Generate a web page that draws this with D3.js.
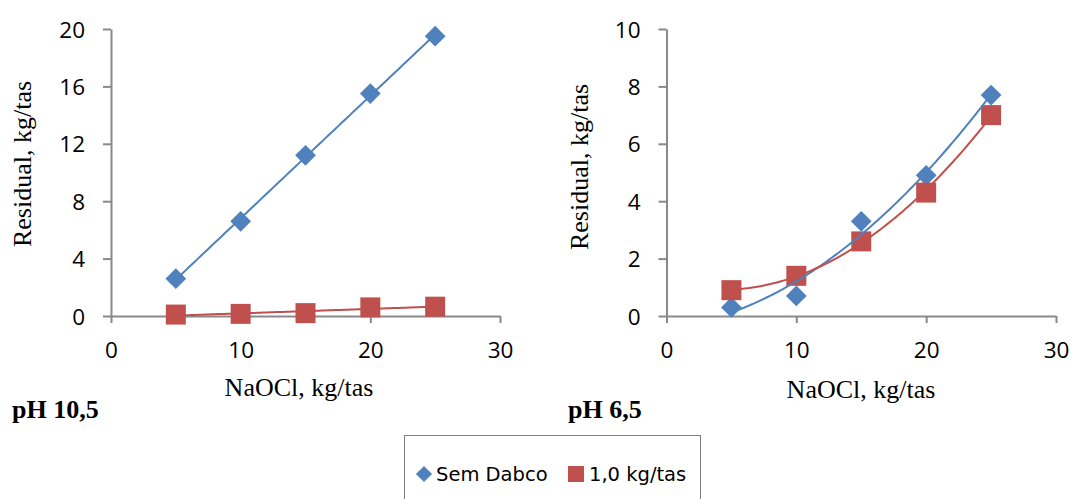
<!DOCTYPE html>
<html>
<head>
<meta charset="utf-8">
<script src="https://cdn.jsdelivr.net/npm/d3@7/dist/d3.min.js"></script>
<style>
  html, body { margin: 0; padding: 0; background: #fff; }
  svg { display: block; }
</style>
</head>
<body>
<svg id="chart" width="1073" height="499"></svg>
<script>
// NaOCl charge (kg/tas)
const naocl = [5, 10, 15, 20, 25];

// pH 10,5 panel
const ph105SemDabco = [2.6, 6.6, 11.2, 15.5, 19.5];
const ph105Dabco10  = [0.1, 0.15, 0.2, 0.6, 0.65];

// pH 6,5 panel
const ph65SemDabco = [0.3, 0.7, 3.3, 4.9, 7.7];
const ph65Dabco10  = [0.9, 1.4, 2.6, 4.3, 7.0];

const xTicks = [0, 10, 20, 30];
const yTicksLeft = [0, 4, 8, 12, 16, 20];
const yTicksRight = [0, 2, 4, 6, 8, 10];

const seriesNames = ["Sem Dabco", "1,0 kg/tas"];
const panelLabels = ["pH 10,5", "pH 6,5"];

const BLUE = "#4f81bd";
const RED = "#c0504d";
const AXIS = "#898989";
const SERIF = "'Liberation Serif', 'Times New Roman', serif";

const svg = d3.select("#chart");

// least-squares polynomial fit (degree 1 or 2) for trendlines
function polyFit(xs, ys, deg) {
  const n = deg + 1;
  const A = Array.from({length: n}, () => new Array(n + 1).fill(0));
  xs.forEach((x, k) => {
    for (let i = 0; i < n; i++) {
      for (let j = 0; j < n; j++) A[i][j] += Math.pow(x, i + j);
      A[i][n] += Math.pow(x, i) * ys[k];
    }
  });
  for (let i = 0; i < n; i++) {
    for (let r = i + 1; r < n; r++) {
      const f = A[r][i] / A[i][i];
      for (let c = i; c <= n; c++) A[r][c] -= f * A[i][c];
    }
  }
  const coef = new Array(n).fill(0);
  for (let i = n - 1; i >= 0; i--) {
    let s = A[i][n];
    for (let j = i + 1; j < n; j++) s -= A[i][j] * coef[j];
    coef[i] = s / A[i][i];
  }
  return x => coef.reduce((acc, c, i) => acc + c * Math.pow(x, i), 0);
}

const squareSym = d3.symbol().type(d3.symbolSquare);

function panel(opts) {
  const x = d3.scaleLinear().domain([0, 30]).range([opts.x0, opts.x1]);
  const y = d3.scaleLinear().domain([0, opts.yMax]).range([316, 29]);
  const g = svg.append("g");

  // y axis
  const yAxis = d3.axisLeft(y).tickValues(opts.yTicks).tickSize(8).tickSizeOuter(0);
  const ya = g.append("g").attr("transform", `translate(${opts.x0},0)`).call(yAxis);
  ya.selectAll(".tick text").attr("x", -26).attr("dy", "0.36em");
  // x axis
  const xAxis = d3.axisBottom(x).tickValues(xTicks).tickSize(7).tickSizeOuter(0);
  const xa = g.append("g").attr("transform", `translate(0,316)`).call(xAxis);
  xa.selectAll(".tick text").attr("y", 42).attr("dy", 0);
  [ya, xa].forEach(a => {
    a.selectAll("path.domain").attr("stroke", AXIS).attr("stroke-width", 2);
    a.selectAll(".tick line").attr("stroke", AXIS).attr("stroke-width", 2);
    a.selectAll(".tick text")
      .attr("fill", "#000")
      .style("font-family", "'Open Sans', sans-serif")
      .style("font-size", "22.5px");
  });

  // markers: blue diamonds then red squares
  const sets = [
    {vals: opts.blue, color: BLUE, kind: "diamond"},
    {vals: opts.red, color: RED, kind: "square"}
  ];
  sets.forEach(s => {
    g.append("g").selectAll("path")
      .data(naocl.map((v, i) => [v, s.vals[i]]))
      .join("path")
      .attr("d", s.kind === "diamond" ? squareSym.size(215)() : squareSym.size(400)())
      .attr("transform", d => `translate(${x(d[0])},${y(d[1])})` + (s.kind === "diamond" ? " rotate(45)" : ""))
      .attr("fill", s.color);
  });

  // trendlines
  sets.forEach(s => {
    const f = polyFit(naocl, s.vals, opts.degree);
    const xs = d3.range(5, 25.001, 0.25);
    g.append("path")
      .datum(xs.map(v => [v, f(v)]))
      .attr("fill", "none")
      .attr("stroke", s.color)
      .attr("stroke-width", 2)
      .attr("d", d3.line().x(d => x(d[0])).y(d => y(d[1])));
  });

  // axis titles
  g.append("text")
    .attr("x", opts.xtX)
    .attr("y", opts.xtY)
    .attr("text-anchor", "middle")
    .style("font-family", SERIF)
    .style("font-size", "26px")
    .text("NaOCl, kg/tas");
  g.append("text")
    .attr("transform", `translate(${opts.ytX},${opts.ytY}) rotate(-90)`)
    .attr("text-anchor", "middle")
    .style("font-family", SERIF)
    .style("font-size", "26px")
    .text("Residual, kg/tas");

  // panel label
  g.append("text")
    .attr("x", opts.labelX)
    .attr("y", 418)
    .style("font-family", SERIF)
    .style("font-size", "26px")
    .style("font-weight", "bold")
    .text(opts.label);
}

panel({x0: 111, x1: 500, yMax: 20, yTicks: yTicksLeft, blue: ph105SemDabco, red: ph105Dabco10,
       degree: 1, xtX: 299, xtY: 396, ytX: 31, ytY: 164, labelX: 12, label: panelLabels[0]});
panel({x0: 666.5, x1: 1056, yMax: 10, yTicks: yTicksRight, blue: ph65SemDabco, red: ph65Dabco10,
       degree: 2, xtX: 861, xtY: 398, ytX: 588, ytY: 167, labelX: 568, label: panelLabels[1]});

// legend
const lg = svg.append("g");
lg.append("rect")
  .attr("x", 404.5).attr("y", 435.5)
  .attr("width", 296).attr("height", 80)
  .attr("fill", "#fff").attr("stroke", "#7f7f7f").attr("stroke-width", 1);
lg.append("path")
  .attr("d", squareSym.size(130)())
  .attr("transform", "translate(424,474) rotate(45)")
  .attr("fill", BLUE);
lg.append("text")
  .attr("x", 436).attr("y", 481)
  .style("font-family", "'DejaVu Sans', sans-serif")
  .style("font-size", "19.5px")
  .text(seriesNames[0]);
lg.append("path")
  .attr("d", squareSym.size(256)())
  .attr("transform", "translate(576,474)")
  .attr("fill", RED);
lg.append("text")
  .attr("x", 589).attr("y", 481)
  .style("font-family", "'DejaVu Sans', sans-serif")
  .style("font-size", "19.5px")
  .text(seriesNames[1]);
</script>
</body>
</html>
